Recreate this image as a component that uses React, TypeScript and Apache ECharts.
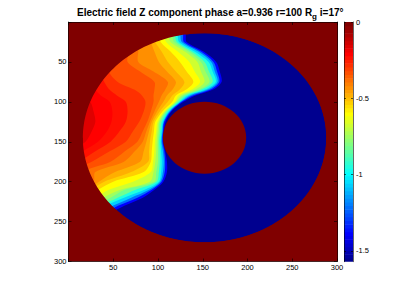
import React, { useEffect, useRef } from "react";
import * as echarts from "echarts";

// ---------- data ----------
const X_TICKS = [50, 100, 150, 200, 250, 300];
const Y_TICKS = [50, 100, 150, 200, 250, 300];
const CB_TICKS = [0, -0.5, -1, -1.5];
const PHASE_MIN = -1.5708;
const PHASE_MAX = 0;
// disc edges in image pixels: [cx, cy, rx, ry]
const OUTER_EDGE = [152, 145, 136, 131];
const INNER_EDGE = [152, 145, 46.5, 45];
// image rows (y) at which the phase contours were read
const ROWS = [-5, 16, 25, 37, 50, 62, 75, 85, 92, 100, 112, 125, 137, 150, 162, 175, 188, 200, 210, 220, 230, 240, 250, 305];
// phase levels; for each one, the x where that level is crossed on each row
const LEVELS = [-1.45, -1.3, -1.15, -1.0, -0.88, -0.78, -0.7, -0.63, -0.56, -0.5, -0.45, -0.4, -0.35, -0.3, -0.26, -0.22, -0.19];
const X_145 = [128, 131, 132, 151, 165, 169, 171, 161, 142, 128.5, 115, 108.5, 106.5, 106, 108, 110, 110, 106, 96, 83, 63, 45, 25, -20];
const X_130 = [125, 128, 129, 148, 162, 166, 168.5, 158, 139, 126.5, 114, 107, 105.5, 105, 107, 108, 107.5, 104, 93, 77, 56, 40, 20, -20];
const X_115 = [122, 125, 126.5, 145, 159.5, 163.5, 166.5, 155, 136, 125.5, 113, 106.3, 105, 104, 105.5, 106.5, 105.5, 102.5, 90, 70, 50, 35, 15, -20];
const X_100 = [119, 122, 123.5, 141, 156.5, 161, 164.5, 152, 133.5, 124.2, 112, 105.5, 104, 103, 103.5, 104.2, 103.5, 101, 85, 62, 42, 30, 10, -20];
const X_088 = [116, 119, 121, 137.5, 152, 157, 161, 148, 131, 123, 110.5, 104, 102.5, 101.5, 102, 102, 101, 98.5, 75, 55, 36, 20, 0, -20];
const X_078 = [113, 116, 118, 134, 148, 153, 157.5, 145, 128, 121, 109, 102, 101, 100, 100, 100, 98, 96, 63, 47, 30, 10, -10, -20];
const X_070 = [109, 112, 114, 130, 144, 148, 152, 141, 126, 120, 108, 101, 99.5, 98.5, 98, 97, 95, 91, 58, 38, 20, 0, -15, -20];
const X_063 = [104, 107, 109, 122, 135, 141, 147, 137, 123, 119, 107, 99.5, 98, 96.5, 96, 94.5, 92, 72, 45, 30, 10, -10, -20, -20];
const X_056 = [98, 101, 103, 114, 124.5, 132, 139.5, 131, 120, 116, 105, 97, 95.5, 94, 93, 92, 84, 50, 33, 20, 0, -20, -20, -20];
const X_050 = [92, 95, 97, 104, 111, 120, 129.5, 124, 116, 111, 102, 95, 93, 91, 90, 89, 70, 40, 25, 10, -10, -20, -20, -20];
const X_045 = [87, 90, 92, 96, 101, 110, 120, 116, 110, 106, 99, 93, 90, 87, 84, 80, 52, 34, 20, 0, -20, -20, -20, -20];
const X_040 = [76, 78, 79, 78, 78, 95, 111, 108, 104, 101, 96, 91, 87, 83, 74, 62, 30, 28, 15, -10, -20, -20, -20, -20];
const X_035 = [68, 70, 70, 68, 66, 80, 96, 96, 95, 95, 92, 88, 83, 77, 63, 47, 15, 15, 0, -20, -20, -20, -20, -20];
const X_030 = [55, 55, 52, 48, 46, 45, 55, 74, 82, 86, 84, 79, 72, 64, 46, 26, 0, -10, -20, -20, -20, -20, -20, -20];
const X_026 = [30, 30, 30, 30, 30, 35, 40, 46, 54, 64, 66, 64, 57, 47, 30, 12, -10, -20, -20, -20, -20, -20, -20, -20];
const X_022 = [10, 10, 10, 10, 10, 15, 22, 30, 36, 46, 49, 48, 43, 33, 16, 2, -20, -20, -20, -20, -20, -20, -20, -20];
const X_019 = [-20, -20, -20, -20, -20, -20, -20, -5, 8, 24, 28, 30, 26, 19, 2, -20, -20, -20, -20, -20, -20, -20, -20, -20];
const LEVEL_X = [X_145, X_130, X_115, X_100, X_088, X_078, X_070, X_063, X_056, X_050, X_045, X_040, X_035, X_030, X_026, X_022, X_019];

// ---------- styling helpers ----------
const FONT = "'Liberation Sans', Arial, Helvetica, sans-serif";

function jet(v: number): string {
  let t = (v - PHASE_MIN) / (PHASE_MAX - PHASE_MIN);
  t = Math.max(0, Math.min(1, t));
  let i = Math.floor(t * 64) + 1;
  if (i > 64) i = 64;
  const r = i <= 24 ? 0 : i <= 40 ? (i - 24) / 16 : i <= 56 ? 1 : 1 - (i - 56) / 16;
  const g = i <= 8 ? 0 : i <= 24 ? (i - 8) / 16 : i <= 40 ? 1 : i <= 56 ? 1 - (i - 40) / 16 : 0;
  const b = i <= 8 ? 0.5 + i / 16 : i <= 24 ? 1 : i <= 40 ? 1 - (i - 24) / 16 : 0;
  const h = (x: number) => Math.round(Math.max(0, Math.min(1, x)) * 255);
  return `rgb(${h(r)},${h(g)},${h(b)})`;
}

function bandValue(i: number): number {
  const lo = LEVELS[i];
  const hi = i + 1 < LEVELS.length ? LEVELS[i + 1] : -0.15;
  return (lo + hi) / 2;
}

const CB_STEPS = Array.from({ length: 64 }, (_, i) => [i]);

function renderImage(params: any, api: any) {
  const P = (p: number[]) => api.coord(p);
  const ell = (e: number[]) => {
    const c = P([e[0], e[1]]);
    const px = P([e[0] + e[2], e[1]]);
    const py = P([e[0], e[1] + e[3]]);
    return { cx: c[0], cy: c[1], rx: Math.abs(px[0] - c[0]), ry: Math.abs(py[1] - c[1]) };
  };
  const cs = params.coordSys;
  const gx = cs.x, gy = cs.y, gw = cs.width, gh = cs.height;
  const children: any[] = [];
  const dark = jet(PHASE_MAX);
  const o = ell(OUTER_EDGE);
  children.push({ type: "rect", shape: { x: gx, y: gy, width: gw, height: gh }, style: { fill: dark } });
  children.push({ type: "ellipse", shape: o, style: { fill: jet(PHASE_MIN) } });
  LEVELS.forEach((_, i) => {
    const xs = LEVEL_X[i];
    const pts = xs.map((x, r) => P([x, ROWS[r]]));
    pts.push(P([-30, 305]), P([-30, -5]));
    children.push({ type: "polygon", shape: { points: pts, smooth: 0.3 }, style: { fill: jet(bandValue(i)) } });
  });
  // mask outside the disc
  const N = 120;
  const ext = 0.06;
  const yOff = o.cy + o.ry * Math.sin(ext);
  const topPts: number[][] = [[gx - 2, yOff], [gx - 2, gy - 2], [gx + gw + 2, gy - 2], [gx + gw + 2, yOff]];
  for (let k = 0; k <= N; k++) {
    const t = ext - (Math.PI + 2 * ext) * (k / N);
    topPts.push([o.cx + o.rx * Math.cos(t), o.cy + o.ry * Math.sin(t)]);
  }
  const botPts: number[][] = [[gx - 2, o.cy], [gx - 2, gy + gh + 2], [gx + gw + 2, gy + gh + 2], [gx + gw + 2, o.cy]];
  for (let k = 0; k <= N; k++) {
    const t = Math.PI * (k / N);
    botPts.push([o.cx + o.rx * Math.cos(t), o.cy + o.ry * Math.sin(t)]);
  }
  children.push({ type: "polygon", shape: { points: botPts }, style: { fill: dark } });
  children.push({ type: "polygon", shape: { points: topPts }, style: { fill: dark } });
  const h = ell(INNER_EDGE);
  children.push({ type: "ellipse", shape: h, style: { fill: dark } });
  return { type: "group", children };
}

function renderBar(params: any, api: any) {
  const i = api.value(0);
  const step = (PHASE_MAX - PHASE_MIN) / 64;
  const v0 = PHASE_MIN + i * step;
  const p0 = api.coord([0, v0]);
  const p1 = api.coord([1, v0 + step]);
  return {
    type: "rect",
    shape: { x: p0[0], y: p1[1], width: p1[0] - p0[0], height: p0[1] - p1[1] + 0.6 },
    style: { fill: jet(v0 + step / 2) },
  };
}

const axisLine = { show: true, onZero: false, lineStyle: { color: "#000", width: 0.6 } };
const tickStyle = { color: "#000", width: 0.6 };
const labelStyle = { color: "#000", fontSize: 7.5, fontFamily: FONT };

const option: any = {
  animation: false,
  backgroundColor: "#fff",
  title: {
    text: "{a|Electric field Z component phase a=0.936 r=100 R}{s|g}{a| i=17°}",
    left: 72,
    top: 2,
    textStyle: {
      rich: {
        a: { fontSize: 10, fontWeight: "bold", fontFamily: FONT, color: "#000", lineHeight: 12, verticalAlign: "top" },
        s: { fontSize: 8, fontWeight: "bold", fontFamily: FONT, color: "#000", lineHeight: 8, padding: [5, 0, 0, 0], verticalAlign: "top" },
      },
    },
  },
  grid: [
    { left: 68.5, top: 22, width: 268.5, height: 239.5 },
    { left: 344, top: 22, width: 9, height: 239.7 },
  ],
  xAxis: [
    {
      gridIndex: 0, type: "value", min: 0, max: 300, interval: 50, position: "bottom", z: 5,
      axisLine, axisTick: { inside: true, length: 3, lineStyle: tickStyle },
      axisLabel: { ...labelStyle, margin: 2, formatter: (v: number) => (X_TICKS.includes(v) ? String(v) : "") },
      splitLine: { show: false },
    },
    {
      gridIndex: 0, type: "value", min: 0, max: 300, interval: 50, position: "top", z: 5,
      axisLine, axisTick: { inside: true, length: 3, lineStyle: tickStyle },
      axisLabel: { show: false }, splitLine: { show: false },
    },
    { gridIndex: 1, type: "value", min: 0, max: 1, show: false },
  ],
  yAxis: [
    {
      gridIndex: 0, type: "value", min: 0, max: 300, interval: 50, inverse: true, position: "left", z: 5,
      axisLine, axisTick: { inside: true, length: 3, lineStyle: tickStyle },
      axisLabel: { ...labelStyle, margin: 2, formatter: (v: number) => (Y_TICKS.includes(v) ? String(v) : "") },
      splitLine: { show: false },
    },
    {
      gridIndex: 0, type: "value", min: 0, max: 300, interval: 50, inverse: true, position: "right", z: 5,
      axisLine, axisTick: { inside: true, length: 3, lineStyle: tickStyle },
      axisLabel: { show: false }, splitLine: { show: false },
    },
    {
      gridIndex: 1, type: "value", min: PHASE_MIN, max: PHASE_MAX, position: "right", z: 5,
      axisLine, axisTick: { inside: true, length: 2, lineStyle: tickStyle, customValues: CB_TICKS },
      axisLabel: { ...labelStyle, margin: 3, customValues: CB_TICKS, formatter: (v: number) => String(v) },
      splitLine: { show: false },
    },
    {
      gridIndex: 1, type: "value", min: PHASE_MIN, max: PHASE_MAX, position: "left", z: 5,
      axisLine, axisTick: { inside: true, length: 2, lineStyle: tickStyle, customValues: CB_TICKS },
      axisLabel: { show: false }, splitLine: { show: false },
    },
  ],
  series: [
    {
      type: "custom", xAxisIndex: 0, yAxisIndex: 0, clip: true,
      renderItem: renderImage, data: [[0]], silent: true,
    },
    {
      type: "custom", xAxisIndex: 2, yAxisIndex: 2, clip: true,
      renderItem: renderBar, data: CB_STEPS, silent: true,
    },
  ],
};

export default function App() {
  const ref = useRef<HTMLDivElement>(null);
  useEffect(() => {
    const chart = echarts.init(ref.current!, null, { renderer: "svg" });
    chart.setOption(option);
    return () => chart.dispose();
  }, []);
  return (
    <div
      ref={ref}
      style={{ position: "fixed", left: 0, top: 0, width: 415, height: 294, background: "#fff" }}
    />
  );
}
